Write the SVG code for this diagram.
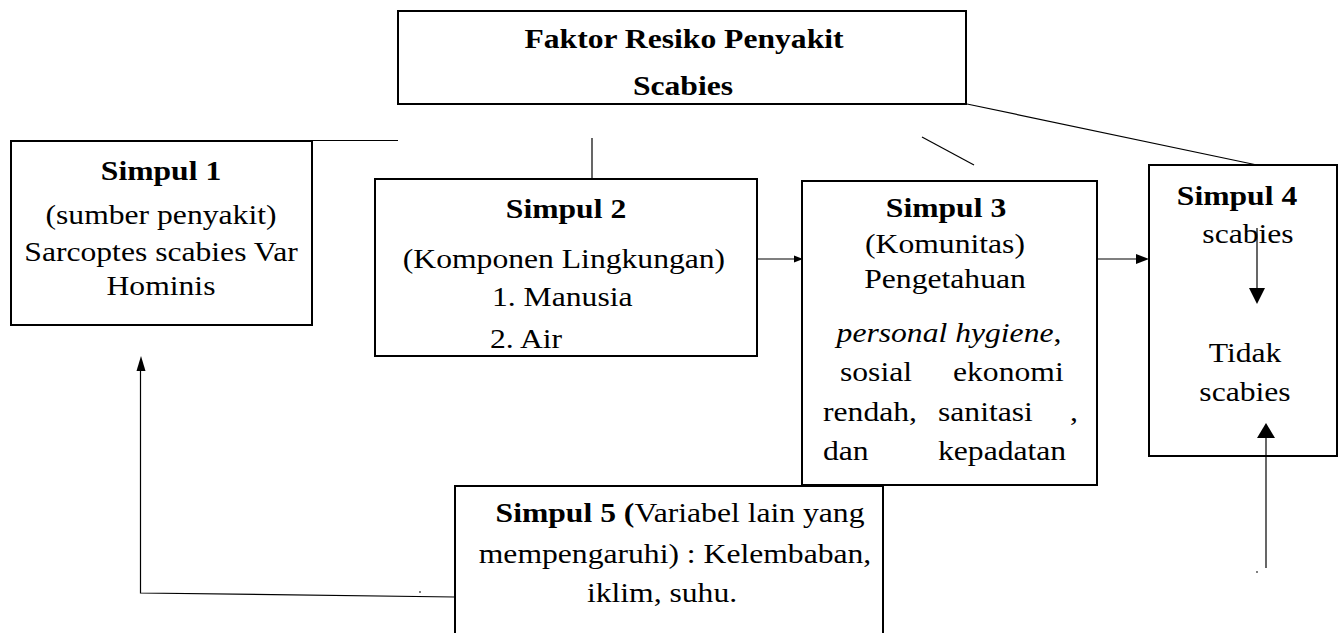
<svg xmlns="http://www.w3.org/2000/svg" width="1344" height="633" viewBox="0 0 1344 633">
<style>
text{font-family:'Liberation Serif','DejaVu Serif',serif;font-size:28px;fill:#000}
.b{font-weight:bold}
.i{font-style:italic}
.m{text-anchor:middle}
.box{fill:#fff;stroke:#000;stroke-width:2}
.ln{stroke:#000;stroke-width:1.2;fill:none}
.ah{fill:#000;stroke:none}
</style>
<rect width="1344" height="633" fill="#fff"/>
<g id="connectors">
  <line class="ln" x1="312" y1="140.5" x2="398" y2="140.5"/>
  <line class="ln" x1="592" y1="138" x2="592" y2="180"/>
  <line class="ln" x1="922" y1="137" x2="974" y2="165"/>
  <line class="ln" x1="967" y1="104" x2="1257" y2="165"/>
  <path class="ln" d="M455,597 L140.5,593 L140.5,368" stroke-width="1.6"/>
  <polygon class="ah" points="141,356 136.5,371 145.5,371"/>
  <line class="ln" x1="757" y1="259" x2="795" y2="259"/>
  <polygon class="ah" points="803,259 794,255.5 794,262.5"/>
  <line class="ln" x1="1097" y1="259" x2="1137" y2="259" stroke-width="2.6"/>
  <polygon class="ah" points="1149,259 1136,254 1136,264"/>
  <circle cx="420" cy="592" r="0.9" fill="#444"/>
  <circle cx="1257" cy="572" r="0.9" fill="#444"/>
</g>
<g id="node-title">
  <rect class="box" x="398" y="11" width="568" height="93"/>
  <text class="b m" transform="matrix(1.13 0 0 1 684 48)">Faktor Resiko Penyakit</text>
  <text class="b m" transform="matrix(1.13 0 0 1 683 95)">Scabies</text>
</g>
<g id="node-simpul1">
  <rect class="box" x="11" y="141" width="301" height="184"/>
  <text class="b m" transform="matrix(1.13 0 0 1 161 180)">Simpul 1</text>
  <text class="m" transform="matrix(1.13 0 0 1 161 224)">(sumber penyakit)</text>
  <text class="m" transform="matrix(1.13 0 0 1 161 261)">Sarcoptes scabies Var</text>
  <text class="m" transform="matrix(1.13 0 0 1 161 295)">Hominis</text>
</g>
<g id="node-simpul2">
  <rect class="box" x="375" y="179" width="382" height="177"/>
  <text class="b m" transform="matrix(1.13 0 0 1 566 218)">Simpul 2</text>
  <text class="m" transform="matrix(1.13 0 0 1 564 268)">(Komponen Lingkungan)</text>
  <text transform="matrix(1.13 0 0 1 492 306)">1. Manusia</text>
  <text transform="matrix(1.13 0 0 1 490 348)">2. Air</text>
</g>
<g id="node-simpul3">
  <rect class="box" x="802" y="181" width="295" height="304"/>
  <text class="b m" transform="matrix(1.13 0 0 1 946 217)">Simpul 3</text>
  <text class="m" transform="matrix(1.13 0 0 1 945 253)">(Komunitas)</text>
  <text class="m" transform="matrix(1.13 0 0 1 945 288)">Pengetahuan</text>
  <text class="m" transform="matrix(1.13 0 0 1 949 342)"><tspan class="i">personal hygiene</tspan>,</text>
  <text transform="matrix(1.13 0 0 1 840 381)">sosial</text>
  <text transform="matrix(1.13 0 0 1 953 381)">ekonomi</text>
  <text transform="matrix(1.13 0 0 1 823 421)">rendah,</text>
  <text transform="matrix(1.13 0 0 1 938 421)">sanitasi</text>
  <text transform="matrix(1.13 0 0 1 1070 421)">,</text>
  <text transform="matrix(1.13 0 0 1 823 460)">dan</text>
  <text transform="matrix(1.13 0 0 1 938 460)">kepadatan</text>
</g>
<g id="node-simpul4">
  <rect class="box" x="1149" y="165" width="188" height="291"/>
  <text class="b m" transform="matrix(1.13 0 0 1 1237 205)">Simpul 4</text>
  <text class="m" transform="matrix(1.13 0 0 1 1248 243)">scabies</text>
  <text class="m" transform="matrix(1.13 0 0 1 1245 362)">Tidak</text>
  <text class="m" transform="matrix(1.13 0 0 1 1245 401)">scabies</text>
  <line class="ln" x1="1257" y1="228" x2="1257" y2="290" stroke-width="2"/>
  <polygon class="ah" points="1249,288 1265,288 1257,304"/>
  <line class="ln" x1="1266" y1="568" x2="1266" y2="435" stroke-width="2.6"/>
  <polygon class="ah" points="1257,438 1275,438 1266,423"/>
</g>
<g id="node-simpul5">
  <rect class="box" x="455" y="486" width="428" height="170"/>
  <text class="m" transform="matrix(1.13 0 0 1 680 522)"><tspan class="b">Simpul 5 (</tspan>Variabel lain yang</text>
  <text class="m" transform="matrix(1.13 0 0 1 675 563)">mempengaruhi) : Kelembaban,</text>
  <text class="m" transform="matrix(1.13 0 0 1 662 602)">iklim, suhu.</text>
</g>
</svg>
